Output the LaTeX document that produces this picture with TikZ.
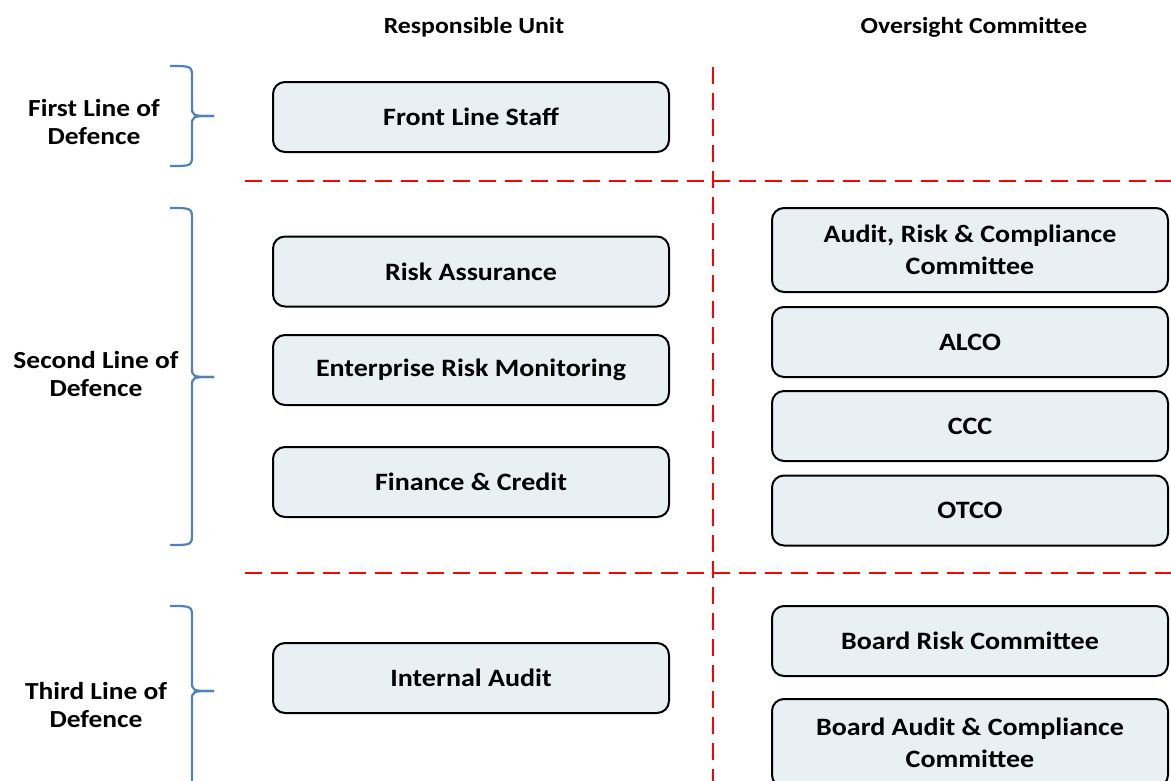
\documentclass[tikz,border=0pt]{standalone}
\usepackage{fontspec}
\setmainfont{Carlito}[FakeStretch=1.12]
\usetikzlibrary{positioning}
\definecolor{boxfill}{RGB}{232,240,244}
\definecolor{bracecol}{RGB}{79,129,189}
\tikzset{
  unitbox/.style={draw=black, line width=2pt, rounded corners=12pt, fill=boxfill, minimum width=396pt, minimum height=70pt, align=center, font=\fontsize{25}{32}\selectfont\bfseries},
  headtext/.style={font=\fontsize{23}{28}\selectfont\bfseries},
  linelabel/.style={align=center, font=\fontsize{24.5}{28}\selectfont\bfseries},
  sepline/.style={red, line width=2.2pt, dash pattern=on 17pt off 9pt},
}
\newcommand{\linebrace}[4]{ % #1: x of stem, #2: top y, #3: bottom y, #4: tip y
  \draw[bracecol, line width=2.2pt] (#1-22,#2) .. controls (#1,#2) .. (#1,#2+12) -- (#1,#4-10) .. controls (#1,#4) .. (#1+22,#4);
  \draw[bracecol, line width=2.2pt] (#1-22,#3) .. controls (#1,#3) .. (#1,#3-12) -- (#1,#4+10) .. controls (#1,#4) .. (#1+22,#4);
}

\begin{document}
\begin{tikzpicture}[x=1pt,y=-1pt]
\useasboundingbox (0,0) rectangle (1171,780);

% Column headings
\node[headtext] (unithead) at (474,27) {Responsible Unit};
\node[headtext] (committeehead) at (974,27) {Oversight Committee};

% Separators
\draw[sepline] (713,67) -- (713,790);
\draw[sepline] (245,181) -- (1175,181);
\draw[sepline] (245,573) -- (1175,573);

% Braces and line labels
\linebrace{192}{66}{166}{116}
\linebrace{192}{208}{545}{377}
\linebrace{192}{606}{800}{691}
\node[linelabel] (firstline) at (94,122) {First Line of\\Defence};
\node[linelabel] (secondline) at (96,374) {Second Line of\\Defence};
\node[linelabel] (thirdline) at (96,705) {Third Line of\\Defence};

% Responsible units
\node[unitbox] (frontline) at (471,117) {Front Line Staff};
\node[unitbox] (riskassurance) at (471,271.5) {Risk Assurance};
\node[unitbox] (erm) at (471,370) {Enterprise Risk Monitoring};
\node[unitbox] (financecredit) at (471,482) {Finance \& Credit};
\node[unitbox] (internalaudit) at (471,678) {Internal Audit};

% Oversight committees
\node[unitbox, minimum height=84pt] (arcc) at (970,250) {Audit, Risk \& Compliance\\Committee};
\node[unitbox] (alco) at (970,342) {ALCO};
\node[unitbox] (ccc) at (970,426) {CCC};
\node[unitbox] (otco) at (970,510.5) {OTCO};
\node[unitbox] (brc) at (970,641) {Board Risk Committee};
\node[unitbox, minimum height=88pt] (bacc) at (970,743) {Board Audit \& Compliance\\Committee};

\end{tikzpicture}
\end{document}
